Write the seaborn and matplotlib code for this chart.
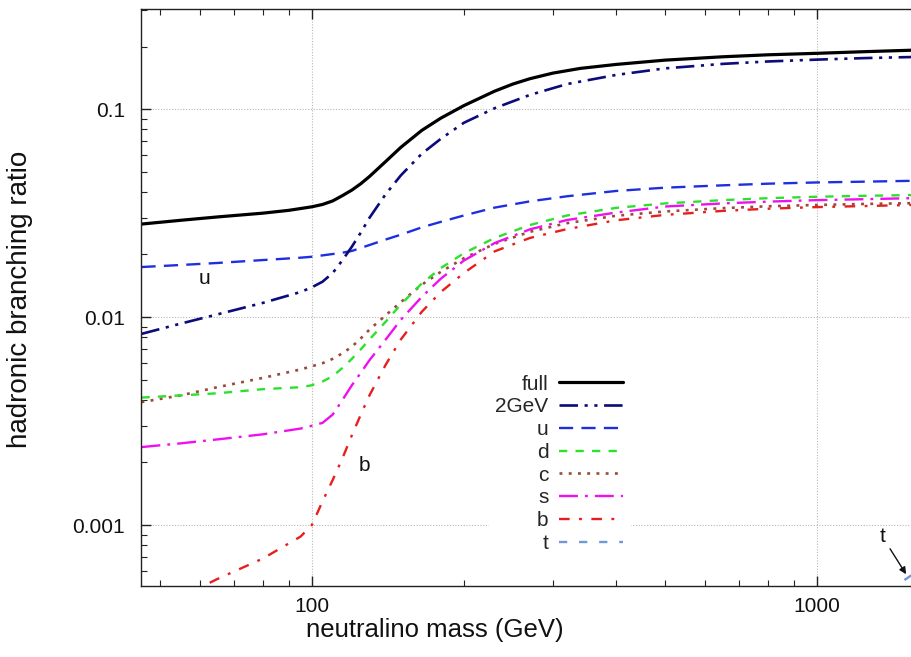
import numpy as np
import pandas as pd
import matplotlib
matplotlib.use("Agg")
import matplotlib.pyplot as plt
from matplotlib.ticker import NullFormatter, LogLocator, FixedLocator
import seaborn as sns

# ---------------- data ----------------
mass_full = [46, 55, 65, 80, 90, 100, 105, 110, 115, 120, 125, 130, 140, 150, 165,
             180, 200, 230, 250, 270, 300, 340, 400, 500, 650, 800, 1000, 1250, 1540]
br_full = [0.0280, 0.0292, 0.0303, 0.0316, 0.0326, 0.0339, 0.0348, 0.0362, 0.0384,
           0.0408, 0.0438, 0.0474, 0.0560, 0.0655, 0.0790, 0.0905, 0.1040, 0.1220,
           0.1320, 0.1400, 0.1490, 0.1570, 0.1640, 0.1720, 0.1785, 0.1825, 0.1855,
           0.1890, 0.1920]

mass = [46, 55, 65, 80, 95, 100, 105, 110, 115, 120, 125, 130, 140, 150, 165,
        180, 200, 230, 270, 320, 400, 500, 650, 800, 1000, 1250, 1540]

br_2gev = [0.0083, 0.0093, 0.0103, 0.0117, 0.0132, 0.0139, 0.0148, 0.0163, 0.0188,
           0.0218, 0.0255, 0.0300, 0.0390, 0.0480, 0.0610, 0.0720, 0.0860, 0.1010,
           0.1170, 0.1320, 0.1460, 0.1570, 0.1650, 0.1695, 0.1730, 0.1760, 0.1780]
br_u = [0.0174, 0.0178, 0.0182, 0.0188, 0.0193, 0.0195, 0.0198, 0.0201, 0.0204,
        0.0208, 0.0215, 0.0222, 0.0236, 0.0249, 0.0270, 0.0287, 0.0308, 0.0336,
        0.0360, 0.0381, 0.0404, 0.0419, 0.0430, 0.0438, 0.0444, 0.0448, 0.0452]
br_d = [0.0041, 0.0042, 0.0043, 0.0045, 0.0046, 0.0047, 0.0049, 0.0052, 0.0057,
        0.0063, 0.0070, 0.0078, 0.0095, 0.0115, 0.0145, 0.0172, 0.0203, 0.0240,
        0.0277, 0.0308, 0.0335, 0.0352, 0.0365, 0.0373, 0.0379, 0.0383, 0.0386]
br_c = [0.0039, 0.0042, 0.0046, 0.0051, 0.0056, 0.0058, 0.0060, 0.0063, 0.0067,
        0.0072, 0.0079, 0.0087, 0.0102, 0.0118, 0.0143, 0.0165, 0.0192, 0.0225,
        0.0257, 0.0283, 0.0307, 0.0322, 0.0334, 0.0341, 0.0346, 0.0350, 0.0353]
br_s = [0.00237, 0.00247, 0.00258, 0.00273, 0.00291, 0.0030, 0.0031, 0.0034, 0.0040,
        0.0047, 0.0054, 0.0062, 0.0078, 0.0097, 0.0125, 0.0153, 0.0187, 0.0227,
        0.0264, 0.0293, 0.0318, 0.0340, 0.0352, 0.0359, 0.0365, 0.0369, 0.0373]

mass_b = [55, 65, 80, 95, 100, 105, 110, 115, 120, 125, 130, 140, 150, 165,
          180, 200, 230, 270, 320, 400, 500, 650, 800, 1000, 1250, 1540]
br_b = [0.00045, 0.00055, 0.00069, 0.00088, 0.00100, 0.00130, 0.00165, 0.0021, 0.0027,
        0.0034, 0.0042, 0.0059, 0.0078, 0.0106, 0.0132, 0.0163, 0.0207, 0.0240,
        0.0265, 0.0292, 0.0310, 0.0324, 0.0332, 0.0338, 0.0342, 0.0346]

mass_t = [1380, 1540]
br_t = [0.00048, 0.000575]

series_names = ["full", "2GeV", "u", "d", "c", "s", "b", "t"]

# ---------------- styling ----------------
sns.set_theme(style="ticks")
plt.rcParams["font.family"] = ["Liberation Sans", "DejaVu Sans"]

styles = {
    "full": dict(color="#000000", lw=2.3, ls="-"),
    "2GeV": dict(color="#0b0b7a", lw=1.9, ls=(0, (7, 2.5, 1.2, 2.5, 1.2, 2.5))),
    "u":    dict(color="#1f2fe0", lw=1.7, ls=(0, (6, 3.5))),
    "d":    dict(color="#2ee02e", lw=1.7, ls=(0, (3.5, 3.5))),
    "c":    dict(color="#9a4a3a", lw=1.9, ls=(0, (1.1, 2.4))),
    "s":    dict(color="#ee10ee", lw=1.7, ls=(0, (8, 3, 1.2, 3))),
    "b":    dict(color="#e81e1e", lw=1.7, ls=(0, (4.5, 4, 1.2, 4))),
    "t":    dict(color="#6f98d8", lw=1.7, ls=(0, (3.5, 5))),
}

data = {
    "full": (mass_full, br_full), "2GeV": (mass, br_2gev), "u": (mass, br_u),
    "d": (mass, br_d), "c": (mass, br_c), "s": (mass, br_s),
    "b": (mass_b, br_b), "t": (mass_t, br_t),
}

fig = plt.figure(figsize=(9.12, 6.57), dpi=100)
ax = fig.add_axes([141 / 912, (657 - 586) / 657, (912 - 141) / 912, (586 - 9) / 657])

# draw order: lower curves first, full on top
for name in ["t", "b", "c", "d", "s", "u", "2GeV", "full"]:
    x, y = data[name]
    df = pd.DataFrame({"mass": x, "br": y})
    st = styles[name]
    sns.lineplot(data=df, x="mass", y="br", ax=ax, color=st["color"],
                 linewidth=st["lw"], linestyle=st["ls"], label=name,
                 legend=False, sort=True, estimator=None)

ax.set_xscale("log")
ax.set_yscale("log")
ax.set_xlim(45.9, 1541)
ax.set_ylim(0.000509, 0.303)

ax.xaxis.set_major_locator(FixedLocator([100, 1000]))
ax.set_xticklabels(["100", "1000"])
ax.xaxis.set_minor_locator(LogLocator(base=10, subs=np.arange(2, 10)))
ax.xaxis.set_minor_formatter(NullFormatter())
ax.yaxis.set_major_locator(FixedLocator([0.001, 0.01, 0.1]))
ax.set_yticklabels(["0.001", "0.01", "0.1"])
ax.yaxis.set_minor_locator(LogLocator(base=10, subs=np.arange(2, 10)))
ax.yaxis.set_minor_formatter(NullFormatter())

ax.tick_params(which="both", direction="in", top=True, right=False, colors="#222222",
               labelsize=15, labelcolor="#111111")
ax.tick_params(which="major", length=7, width=1.0)
ax.tick_params(axis="x", which="major", pad=8)
ax.tick_params(axis="y", which="major", pad=11.5)
ax.tick_params(which="minor", length=4, width=0.8)

for sp in ["left", "bottom", "top"]:
    ax.spines[sp].set_color("#222222")
    ax.spines[sp].set_linewidth(1.0)
ax.spines["right"].set_visible(False)

ax.grid(True, which="major", linestyle=(0, (1, 1.5)), color="#b8b8b8", linewidth=0.8)

ax.set_xlabel("neutralino mass (GeV)", fontsize=18.5, color="#111111")
ax.set_ylabel("hadronic branching ratio", fontsize=20, color="#111111")
ax.xaxis.set_label_coords(0.381, -0.055)
ax.yaxis.set_label_coords(-0.140, 0.497)

# curve annotations
ax.text(61.4, 0.0154, "u", fontsize=15, ha="center", va="center", color="#111111")
ax.text(127, 0.00194, "b", fontsize=15, ha="center", va="center", color="#111111")
ax.annotate("t", xy=(1500, 0.00058), xytext=(1346, 0.00088), fontsize=15,
            ha="center", va="center", color="#111111",
            arrowprops=dict(arrowstyle="-|>", color="#111111", lw=1.0,
                            mutation_scale=10, shrinkA=2, shrinkB=0))

# legend (label first, then line sample)
handles, labels = ax.get_legend_handles_labels()
hmap = dict(zip(labels, handles))
leg = ax.legend([hmap[n] for n in series_names], series_names, markerfirst=False,
                loc="upper right", bbox_to_anchor=(640 / 912, 1 - 358 / 657),
                bbox_transform=fig.transFigure, fontsize=15, frameon=True,
                handlelength=3.1, handletextpad=0.5, labelspacing=0.18,
                borderpad=0.3, fancybox=False)
leg.get_frame().set_facecolor("white")
leg.get_frame().set_edgecolor("white")
leg.get_frame().set_alpha(1.0)

fig.savefig("out.png", dpi=100, facecolor="white")
